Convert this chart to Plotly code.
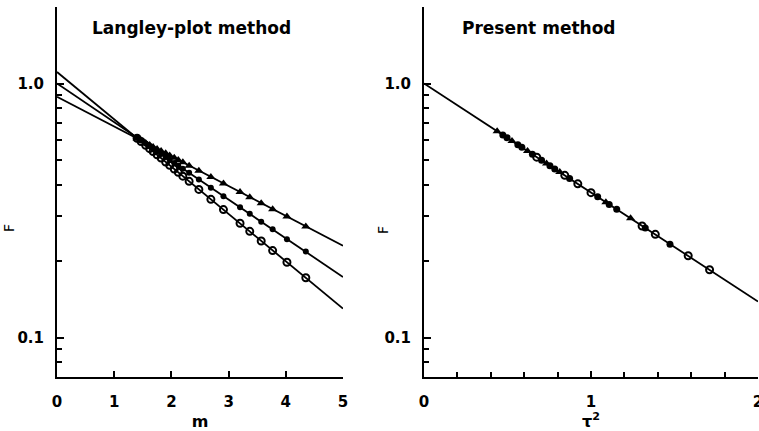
import numpy as np
import plotly.graph_objects as go

# ---------------- data ----------------
m_vals = [1.40, 1.47, 1.55, 1.62, 1.68, 1.75, 1.82, 1.90, 1.97, 2.05, 2.12,
          2.20, 2.31, 2.48, 2.69, 2.91, 3.20, 3.37, 3.57, 3.77, 4.02, 4.35]
F_tri = [0.608, 0.596, 0.583, 0.573, 0.563, 0.553, 0.543, 0.531, 0.521, 0.510, 0.500,
         0.490, 0.475, 0.454, 0.429, 0.404, 0.374, 0.357, 0.338, 0.320, 0.300, 0.274]
F_dot = [0.612, 0.597, 0.581, 0.567, 0.555, 0.541, 0.528, 0.514, 0.501, 0.487, 0.476,
         0.462, 0.445, 0.419, 0.389, 0.360, 0.326, 0.307, 0.286, 0.267, 0.244, 0.218]
F_circ = [0.609, 0.591, 0.571, 0.554, 0.540, 0.524, 0.509, 0.491, 0.477, 0.461, 0.447,
          0.432, 0.412, 0.383, 0.350, 0.319, 0.282, 0.262, 0.240, 0.220, 0.198, 0.172]

# Langley fit lines: intercept F0 at m=0 and log10 slope per unit m
langley_F0 = [0.887, 1.000, 1.110]
langley_slope = [-0.1172, -0.1523, -0.1862]
m_range = [0, 5]

# Present method (tau^2 vs F)
tau_circ = [0.675, 0.843, 0.921, 1.000, 1.306, 1.385, 1.582, 1.710]
Fp_circ = [0.513, 0.435, 0.403, 0.372, 0.275, 0.255, 0.210, 0.185]
tau_dot = [0.472, 0.497, 0.562, 0.586, 0.649, 0.704, 0.754, 0.783, 0.872, 1.040,
           1.109, 1.154, 1.325, 1.473]
Fp_dot = [0.627, 0.612, 0.574, 0.561, 0.527, 0.499, 0.475, 0.461, 0.423, 0.358,
          0.334, 0.320, 0.270, 0.233]
tau_tri = [0.438, 0.527, 0.620, 0.734, 0.813, 1.089, 1.237]
Fp_tri = [0.649, 0.594, 0.542, 0.484, 0.448, 0.341, 0.295]
present_F0 = 1.0
present_slope = -0.429
tau_range = [0, 2]

# ---------------- figure ----------------
fig = go.Figure()
FONT = "DejaVu Sans"

# left panel lines
for F0, s in zip(langley_F0, langley_slope):
    xs = np.array(m_range, dtype=float)
    fig.add_trace(go.Scatter(x=xs, y=F0 * 10 ** (s * xs), mode="lines",
                             line=dict(color="black", width=1.8),
                             xaxis="x", yaxis="y", showlegend=False))
fig.add_trace(go.Scatter(x=m_vals, y=F_tri, mode="markers", xaxis="x", yaxis="y",
                         marker=dict(symbol="triangle-up", size=8, color="black"),
                         showlegend=False))
fig.add_trace(go.Scatter(x=m_vals, y=F_dot, mode="markers", xaxis="x", yaxis="y",
                         marker=dict(symbol="circle", size=6, color="black"),
                         showlegend=False))
fig.add_trace(go.Scatter(x=m_vals, y=F_circ, mode="markers", xaxis="x", yaxis="y",
                         marker=dict(symbol="circle-open", size=7, color="black",
                                     line=dict(width=2)),
                         showlegend=False))

# right panel
xs = np.array(tau_range, dtype=float)
fig.add_trace(go.Scatter(x=xs, y=present_F0 * 10 ** (present_slope * xs), mode="lines",
                         line=dict(color="black", width=1.8),
                         xaxis="x2", yaxis="y2", showlegend=False))
fig.add_trace(go.Scatter(x=tau_tri, y=Fp_tri, mode="markers", xaxis="x2", yaxis="y2",
                         marker=dict(symbol="triangle-up", size=8, color="black"),
                         showlegend=False))
fig.add_trace(go.Scatter(x=tau_dot, y=Fp_dot, mode="markers", xaxis="x2", yaxis="y2",
                         marker=dict(symbol="circle", size=7, color="black"),
                         showlegend=False))
fig.add_trace(go.Scatter(x=tau_circ, y=Fp_circ, mode="markers", xaxis="x2", yaxis="y2",
                         marker=dict(symbol="circle-open", size=7, color="black",
                                     line=dict(width=2)),
                         showlegend=False))

W, H = 759, 431
yminor = [0.08, 0.09, 0.2, 0.3, 0.4, 0.5, 0.6, 0.7, 0.8, 0.9, 2.0]
tickfont = dict(family=FONT, size=15, color="black", weight="bold")

yaxis_common = dict(type="log", range=[np.log10(0.07), np.log10(2.0)],
                    showline=True, linewidth=2, linecolor="black",
                    showgrid=False, zeroline=False, automargin=False,
                    ticks="inside", ticklen=7, tickwidth=1.5, tickcolor="black",
                    tickmode="array", tickvals=[0.1, 1.0], ticktext=["0.1", "1.0"],
                    tickfont=tickfont, ticklabelstandoff=8,
                    minor=dict(tickmode="array", tickvals=yminor, ticks="inside",
                               ticklen=5, tickwidth=1.5, tickcolor="black",
                               showgrid=False))

fig.update_layout(
    width=W, height=H,
    margin=dict(l=0, r=0, t=0, b=0, autoexpand=False),
    paper_bgcolor="white", plot_bgcolor="white",
    xaxis=dict(domain=[57 / W, 343 / W], range=m_range, anchor="y",
               showline=True, linewidth=2, linecolor="black",
               showgrid=False, zeroline=False, automargin=False,
               ticks="inside", ticklen=6, tickwidth=1.5, tickcolor="black",
               tickmode="array", tickvals=[0, 1, 2, 3, 4, 5],
               tickfont=tickfont, ticklabelstandoff=10,
               title=dict(text="<b>m</b>", font=dict(family=FONT, size=16, color="black"),
                          standoff=8)),
    yaxis=dict(domain=[1 - 377 / H, 1 - 7 / H], anchor="x", **yaxis_common),
    xaxis2=dict(domain=[424 / W, 758 / W], range=tau_range, anchor="y2",
                showline=True, linewidth=2, linecolor="black",
                showgrid=False, zeroline=False, automargin=False,
                ticks="inside", ticklen=6, tickwidth=1.5, tickcolor="black",
                tickmode="array", tickvals=[0, 1, 2], ticklabeloverflow="allow",
                tickfont=tickfont, ticklabelstandoff=10,
                minor=dict(tickmode="linear", tick0=0, dtick=0.2, ticks="inside",
                           ticklen=5, tickwidth=1.5, tickcolor="black", showgrid=False),
                title=dict(text="<b>τ<sup>2</sup></b>", font=dict(family=FONT, size=16, color="black"),
                           standoff=4)),
    yaxis2=dict(domain=[1 - 377 / H, 1 - 7 / H], anchor="x2", **yaxis_common),
    annotations=[
        dict(text="<b>Langley-plot method</b>", x=90 / W, y=1 - 28 / H, xref="paper",
             yref="paper", xanchor="left", yanchor="middle", showarrow=False,
             font=dict(family=FONT, size=17, color="black")),
        dict(text="<b>Present method</b>", x=460 / W, y=1 - 28 / H, xref="paper",
             yref="paper", xanchor="left", yanchor="middle", showarrow=False,
             font=dict(family=FONT, size=17, color="black")),
        dict(text="F", x=9 / W, y=1 - 228 / H, xref="paper", yref="paper",
             xanchor="center", yanchor="middle", showarrow=False, textangle=-90,
             font=dict(family=FONT, size=14, color="black")),
        dict(text="F", x=383 / W, y=1 - 230 / H, xref="paper", yref="paper",
             xanchor="center", yanchor="middle", showarrow=False, textangle=-90,
             font=dict(family=FONT, size=14, color="black")),
    ],
)

fig.write_html("out.html", config={"displayModeBar": False},
               post_script="document.body.style.margin='0';document.body.style.overflow='hidden';")
